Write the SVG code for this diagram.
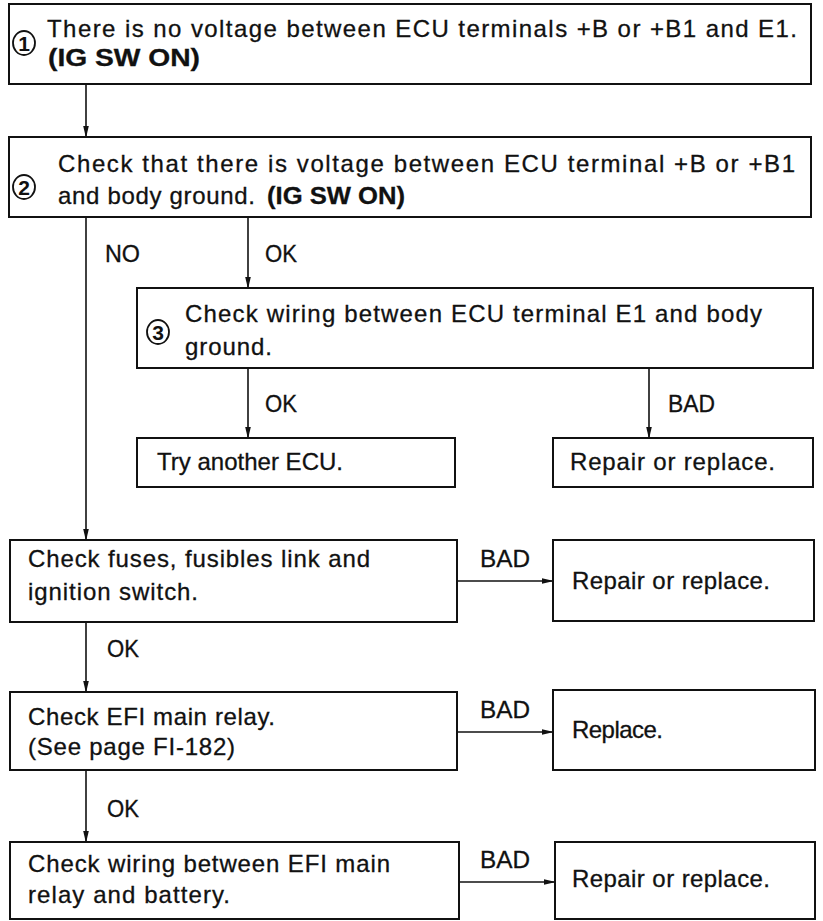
<svg xmlns="http://www.w3.org/2000/svg" width="823" height="921" viewBox="0 0 823 921">
<style>
.box{fill:#fff;stroke:#111;stroke-width:2}
.t{font-family:"Liberation Sans",Arial,sans-serif;font-size:24px;fill:#111;stroke:#111;stroke-width:0.3}
.b{font-weight:bold}
.lbl{font-family:"Liberation Sans",Arial,sans-serif;font-size:24px;fill:#111;stroke:#111;stroke-width:0.3}
.c{fill:none;stroke:#111;stroke-width:1.6}
.num{font-family:"Liberation Sans",Arial,sans-serif;font-size:21px;font-weight:bold;fill:#111;text-anchor:middle}
.circ{fill:none;stroke:#111;stroke-width:1.8}
</style>
<defs>
<marker id="arr" markerWidth="12" markerHeight="8" refX="11" refY="4" orient="auto" markerUnits="userSpaceOnUse">
<path d="M0,1.2 L12,4 L0,6.8 z" fill="#111"/>
</marker>
</defs>
<rect width="823" height="921" fill="#fff"/>
<g id="connectors">
<line class="c" x1="86" y1="84" x2="86" y2="137" marker-end="url(#arr)"/>
<line class="c" x1="86" y1="217" x2="86" y2="540" marker-end="url(#arr)"/>
<line class="c" x1="248" y1="217" x2="248" y2="288" marker-end="url(#arr)"/>
<line class="c" x1="248" y1="368" x2="248" y2="438" marker-end="url(#arr)"/>
<line class="c" x1="649" y1="368" x2="649" y2="438" marker-end="url(#arr)"/>
<line class="c" x1="457" y1="581" x2="553" y2="581" marker-end="url(#arr)"/>
<line class="c" x1="86" y1="622" x2="86" y2="692" marker-end="url(#arr)"/>
<line class="c" x1="457" y1="732" x2="553" y2="732" marker-end="url(#arr)"/>
<line class="c" x1="86" y1="770" x2="86" y2="842" marker-end="url(#arr)"/>
<line class="c" x1="459" y1="882" x2="555" y2="882" marker-end="url(#arr)"/>
<text class="lbl" x="105" y="262" textLength="35" lengthAdjust="spacingAndGlyphs">NO</text>
<text class="lbl" x="265" y="262" textLength="32" lengthAdjust="spacingAndGlyphs">OK</text>
<text class="lbl" x="265" y="412" textLength="32" lengthAdjust="spacingAndGlyphs">OK</text>
<text class="lbl" x="668" y="412" textLength="47" lengthAdjust="spacingAndGlyphs">BAD</text>
<text class="lbl" x="480" y="567" textLength="50" lengthAdjust="spacingAndGlyphs">BAD</text>
<text class="lbl" x="107" y="657" textLength="32" lengthAdjust="spacingAndGlyphs">OK</text>
<text class="lbl" x="480" y="718" textLength="50" lengthAdjust="spacingAndGlyphs">BAD</text>
<text class="lbl" x="107" y="817" textLength="32" lengthAdjust="spacingAndGlyphs">OK</text>
<text class="lbl" x="480" y="868" textLength="50" lengthAdjust="spacingAndGlyphs">BAD</text>
</g>
<g id="n1">
<rect class="box" x="9" y="4" width="802" height="80"/>
<ellipse class="circ" cx="24" cy="43" rx="11" ry="12"/>
<text class="num" x="24" y="50.5">1</text>
<text class="t" x="47" y="37" textLength="750" lengthAdjust="spacing">There is no voltage between ECU terminals +B or +B1 and E1.</text>
<text class="t b" x="48" y="66" textLength="152" lengthAdjust="spacingAndGlyphs">(IG SW ON)</text>
</g>
<g id="n2">
<rect class="box" x="9" y="137" width="802" height="80"/>
<ellipse class="circ" cx="24" cy="187" rx="11" ry="12"/>
<text class="num" x="24" y="194.5">2</text>
<text class="t" x="58" y="172" textLength="737" lengthAdjust="spacing">Check that there is voltage between ECU terminal +B or +B1</text>
<text class="t" x="58" y="204" textLength="197" lengthAdjust="spacing">and body ground.</text>
<text class="t b" x="267" y="204" textLength="138" lengthAdjust="spacingAndGlyphs">(IG SW ON)</text>
</g>
<g id="n3">
<rect class="box" x="137" y="288" width="676" height="80"/>
<ellipse class="circ" cx="158" cy="332" rx="11" ry="12"/>
<text class="num" x="158" y="339.5">3</text>
<text class="t" x="185" y="322" textLength="577" lengthAdjust="spacing">Check wiring between ECU terminal E1 and body</text>
<text class="t" x="185" y="355" textLength="87" lengthAdjust="spacing">ground.</text>
</g>
<g id="n4">
<rect class="box" x="137" y="438" width="318" height="49"/>
<text class="t" x="157" y="470" textLength="186" lengthAdjust="spacing">Try another ECU.</text>
</g>
<g id="n5">
<rect class="box" x="553" y="438" width="260" height="49"/>
<text class="t" x="570" y="470" textLength="205" lengthAdjust="spacing">Repair or replace.</text>
</g>
<g id="n6">
<rect class="box" x="10" y="540" width="447" height="82"/>
<text class="t" x="28" y="567" textLength="342" lengthAdjust="spacing">Check fuses, fusibles link and</text>
<text class="t" x="28" y="600" textLength="170" lengthAdjust="spacing">ignition switch.</text>
</g>
<g id="n7">
<rect class="box" x="553" y="540" width="261" height="81"/>
<text class="t" x="572" y="589" textLength="198" lengthAdjust="spacing">Repair or replace.</text>
</g>
<g id="n8">
<rect class="box" x="10" y="692" width="447" height="78"/>
<text class="t" x="28" y="725" textLength="247" lengthAdjust="spacing">Check EFI main relay.</text>
<text class="t" x="28" y="755" textLength="207" lengthAdjust="spacing">(See page FI-182)</text>
</g>
<g id="n9">
<rect class="box" x="553" y="690" width="262" height="80"/>
<text class="t" x="572" y="738" textLength="91" lengthAdjust="spacing">Replace.</text>
</g>
<g id="n10">
<rect class="box" x="10" y="842" width="449" height="77"/>
<text class="t" x="28" y="872" textLength="362" lengthAdjust="spacing">Check wiring between EFI main</text>
<text class="t" x="28" y="903" textLength="202" lengthAdjust="spacing">relay and battery.</text>
</g>
<g id="n11">
<rect class="box" x="555" y="842" width="260" height="77"/>
<text class="t" x="572" y="887" textLength="198" lengthAdjust="spacing">Repair or replace.</text>
</g>
</svg>
